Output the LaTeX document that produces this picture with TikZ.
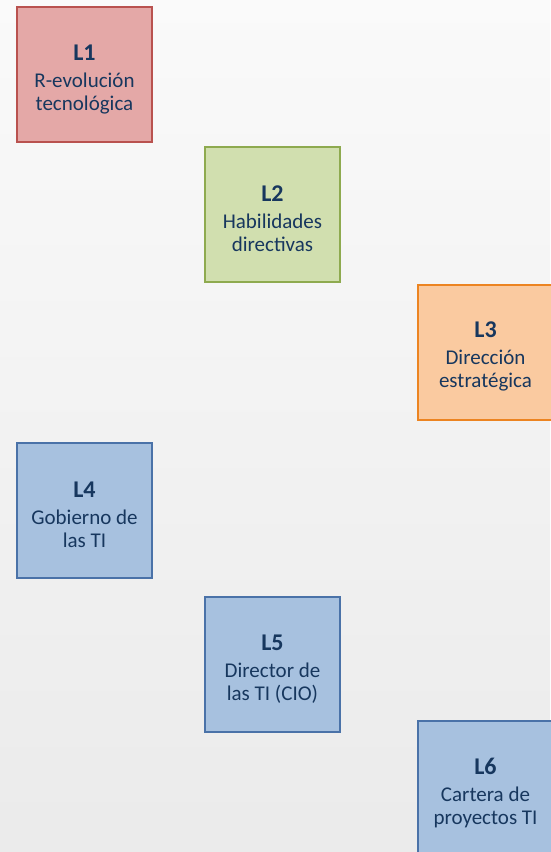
\documentclass[tikz,border=0pt]{standalone}
\usepackage{fontspec}
\setmainfont{Carlito}
\definecolor{textblue}{HTML}{17375E}
\definecolor{redfill}{HTML}{E4A8A7}
\definecolor{reddraw}{HTML}{B9524F}
\definecolor{greenfill}{HTML}{D1DFAF}
\definecolor{greendraw}{HTML}{8EAA4F}
\definecolor{orangefill}{HTML}{FACAA0}
\definecolor{orangedraw}{HTML}{EC8421}
\definecolor{bluefill}{HTML}{A7C1DF}
\definecolor{bluedraw}{HTML}{4A72A8}
\tikzset{
  modbox/.style={draw, line width=2pt, minimum width=135pt, minimum height=135pt,
    align=center, text=textblue, text height=75pt, font=\fontsize{21}{23}\selectfont},
  redbox/.style={modbox, fill=redfill, draw=reddraw},
  greenbox/.style={modbox, fill=greenfill, draw=greendraw},
  orangebox/.style={modbox, fill=orangefill, draw=orangedraw},
  bluebox/.style={modbox, fill=bluefill, draw=bluedraw}
}
\newcommand{\modtitle}[1]{{\fontsize{24}{23}\selectfont\bfseries #1}\\[4pt]}
\begin{document}
\begin{tikzpicture}[x=1pt, y=1pt]
  \useasboundingbox (0,0) rectangle (550,-852);
  \shade[top color=gray!4, bottom color=gray!16] (0,0) rectangle (550,-852);
  \node[redbox] (l1) at (84.5,-74.5) {\modtitle{L1}R-evolución\\tecnológica};
  \node[greenbox] (l2) at (272.5,-214.5) {\modtitle{L2}Habilidades\\directivas};
  \node[orangebox] (l3) at (485.5,-352) {\modtitle{L3}Dirección\\estratégica};
  \node[bluebox] (l4) at (84.5,-510) {\modtitle{L4}Gobierno de\\las TI};
  \node[bluebox] (l5) at (272.5,-664.5) {\modtitle{L5}Director de\\las TI (CIO)};
  \node[bluebox] (l6) at (485.5,-788.5) {\modtitle{L6}Cartera de\\proyectos TI};
\end{tikzpicture}
\end{document}
